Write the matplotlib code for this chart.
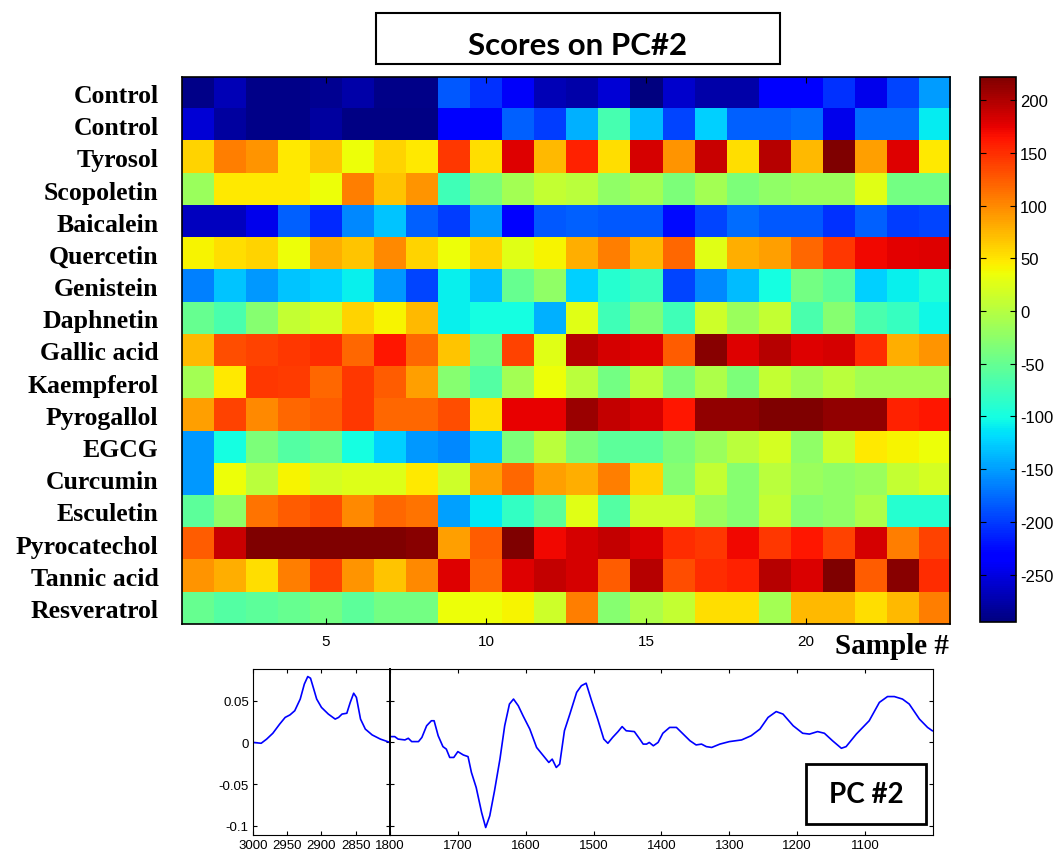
import numpy as np
import matplotlib.pyplot as plt
from matplotlib.patches import Rectangle

plt.rcParams['axes.unicode_minus'] = False

compounds = ['Control', 'Control', 'Tyrosol', 'Scopoletin', 'Baicalein', 'Quercetin',
             'Genistein', 'Daphnetin', 'Gallic acid', 'Kaempferol', 'Pyrogallol', 'EGCG',
             'Curcumin', 'Esculetin', 'Pyrocatechol', 'Tannic acid', 'Resveratrol']
samples = np.arange(1, 25)

# scores on PC#2, one row per compound, one column per sample
scores = np.array([
    [-290, -270, -290, -290, -285, -275, -290, -290, -185, -205, -240, -270,
     -275, -255, -295, -260, -275, -275, -235, -235, -205, -245, -195, -150],
    [-255, -280, -290, -290, -280, -292, -292, -292, -235, -235, -180, -200,
     -140, -70, -135, -195, -125, -180, -180, -175, -245, -175, -175, -110],
    [60, 106, 93, 48, 67, 35, 60, 48, 145, 54, 178, 73,
     157, 54, 183, 93, 188, 54, 196, 73, 222, 87, 178, 48],
    [-17, 48, 48, 48, 35, 106, 67, 93, -73, -36, -12, 8,
     2, -23, -12, -36, -12, -36, -23, -17, -17, 28, -42, -42],
    [-265, -265, -245, -180, -210, -160, -130, -180, -200, -153, -235, -185,
     -180, -185, -185, -225, -195, -175, -185, -185, -205, -180, -200, -195],
    [42, 54, 60, 35, 80, 67, 100, 60, 35, 60, 28, 42,
     80, 106, 73, 119, 28, 80, 87, 119, 145, 170, 176, 178],
    [-165, -130, -153, -130, -125, -108, -153, -195, -108, -135, -50, -23,
     -125, -90, -78, -195, -160, -135, -101, -42, -55, -125, -108, -95],
    [-50, -68, -30, 8, 20, 60, 42, 73, -108, -101, -101, -140,
     28, -73, -36, -73, 15, -17, 8, -68, -30, -68, -80, -105],
    [73, 132, 138, 145, 150, 119, 163, 119, 67, -42, 138, 28,
     196, 183, 178, 125, 216, 178, 196, 178, 183, 150, 80, 93],
    [-12, 48, 145, 142, 119, 145, 125, 87, -30, -62, -12, 35,
     2, -42, 2, -36, -5, -36, 8, -12, 2, -12, -12, -12],
    [87, 138, 100, 119, 125, 145, 119, 119, 132, 54, 175, 175,
     209, 190, 183, 163, 212, 212, 220, 220, 212, 212, 157, 163],
    [-153, -101, -36, -62, -50, -101, -125, -153, -160, -130, -36, 2,
     -36, -55, -55, -36, -17, 2, 20, -23, 15, 48, 42, 35],
    [-153, 35, 2, 42, 20, 25, 25, 48, 15, 87, 119, 87,
     80, 106, 60, -30, 8, -30, 2, -17, -23, -17, 8, 20],
    [-55, -23, 112, 125, 132, 100, 119, 112, -148, -112, -82, -55,
     28, -62, 15, 15, -17, -30, 8, -30, -23, -5, -90, -90],
    [125, 188, 222, 222, 222, 222, 222, 216, 87, 125, 222, 170,
     183, 190, 181, 150, 145, 170, 145, 163, 138, 183, 106, 138],
    [93, 80, 54, 106, 138, 93, 67, 100, 178, 119, 178, 190,
     183, 125, 196, 132, 150, 157, 196, 181, 222, 125, 216, 150],
    [-50, -62, -55, -50, -42, -55, -42, -42, 35, 35, 42, 15,
     106, -30, -5, 8, 54, 54, -12, 73, 73, 54, 73, 106],
])

# PC#2 loading, C-H stretch region
wn_ch = [3000, 2988, 2980, 2971, 2961, 2953, 2946, 2939, 2931, 2925, 2920, 2916,
         2912, 2907, 2900, 2890, 2880, 2875, 2870, 2863, 2858, 2853, 2849, 2843,
         2836, 2826, 2814, 2800]
pc_ch = [0.000, -0.001, 0.004, 0.011, 0.022, 0.030, 0.033, 0.038, 0.052, 0.070, 0.079, 0.077,
         0.066, 0.052, 0.042, 0.034, 0.028, 0.030, 0.034, 0.035, 0.048, 0.059, 0.054, 0.028,
         0.016, 0.009, 0.004, 0.000]

# PC#2 loading, fingerprint region
wn_fp = [1800, 1793, 1788, 1778, 1773, 1768, 1758, 1753, 1746, 1739, 1735, 1729,
         1722, 1717, 1712, 1706, 1700, 1692, 1685, 1680, 1673, 1665, 1659, 1653,
         1646, 1638, 1631, 1624, 1618, 1611, 1604, 1594, 1584, 1574, 1566, 1561,
         1555, 1550, 1543, 1535, 1525, 1518, 1511, 1503, 1494, 1485, 1479, 1472,
         1464, 1458, 1452, 1440, 1432, 1427, 1422, 1418, 1412, 1405, 1398, 1388,
         1378, 1368, 1358, 1349, 1341, 1334, 1326, 1314, 1300, 1282, 1268, 1255,
         1243, 1231, 1221, 1206, 1192, 1182, 1170, 1160, 1148, 1135, 1128, 1113,
         1094, 1079, 1067, 1057, 1045, 1035, 1020, 1008, 1001]
pc_fp = [0.007, 0.007, 0.004, 0.003, 0.005, 0.001, 0.001, 0.006, 0.020, 0.026, 0.026, 0.008,
         -0.005, -0.008, -0.018, -0.018, -0.011, -0.015, -0.017, -0.036, -0.054, -0.084, -0.102, -0.088,
         -0.058, -0.020, 0.020, 0.046, 0.052, 0.044, 0.032, 0.016, -0.006, -0.016, -0.024, -0.020,
         -0.030, -0.026, 0.014, 0.034, 0.060, 0.068, 0.071, 0.050, 0.028, 0.004, -0.001, 0.006,
         0.013, 0.019, 0.014, 0.013, 0.004, -0.002, -0.002, 0.000, -0.004, 0.000, 0.011, 0.018,
         0.018, 0.010, 0.002, -0.003, -0.002, -0.005, -0.006, -0.002, 0.001, 0.003, 0.008, 0.016,
         0.030, 0.037, 0.034, 0.020, 0.011, 0.010, 0.013, 0.011, 0.002, -0.007, -0.005, 0.010,
         0.026, 0.048, 0.055, 0.055, 0.052, 0.046, 0.028, 0.018, 0.014]

tick_font = 'Liberation Sans'
label_font = 'Liberation Serif'

fig = plt.figure(figsize=(10.54, 8.53), dpi=100)

# heatmap
ax = fig.add_axes([0.1727, 0.2673, 0.7287, 0.6413])
im = ax.imshow(scores, cmap='jet', vmin=-295, vmax=222, aspect='auto',
               interpolation='nearest', extent=(0.5, 24.5, 17.5, 0.5))
ax.set_xticks([5, 10, 15, 20])
ax.set_xticklabels(['5', '10', '15', '20'], fontsize=11, family=tick_font)
ax.set_yticks(np.arange(1, 18))
ax.set_yticklabels(compounds, fontsize=18.5, fontweight='bold', family=label_font)
ax.set_yticks(np.arange(2, 17, 2), minor=True)
ax.tick_params(axis='y', which='major', length=0, pad=17)
ax.tick_params(axis='y', which='minor', direction='in', length=4, left=True, right=True)
ax.tick_params(axis='x', direction='in', length=4, top=True, bottom=True, pad=7)
for s in ax.spines.values():
    s.set_linewidth(1.2)

fig.text(0.9, 0.2425, 'Sample #', ha='right', va='center', fontsize=21,
         fontweight='bold', family=label_font)

# colorbar
cax = fig.add_axes([0.9298, 0.2697, 0.0342, 0.6389])
cb = fig.colorbar(im, cax=cax, ticks=np.arange(-250, 201, 50))
cax.tick_params(direction='in', length=4, left=True, right=True, labelsize=12, pad=3)
for t in cax.get_yticklabels():
    t.set_family(tick_font)
cb.outline.set_linewidth(1.2)

# title box
fig.patches.append(Rectangle((376 / 1054, 1 - 65 / 853), 404 / 1054, 51 / 853,
                             transform=fig.transFigure, fill=False, lw=1.5, ec='black'))
fig.text(578 / 1054, 1 - 46 / 853, 'Scores on PC#2', ha='center', va='center',
         fontsize=22.5, fontweight='bold', family='Lato')

# loadings
ax1 = fig.add_axes([0.2400, 0.0199, 0.1300, 0.1946])
ax1.plot(wn_ch, pc_ch, color='blue', lw=1.2)
ax1.set_xlim(3000, 2800)
ax1.set_ylim(-0.111, 0.088)
ax1.set_xticks([3000, 2950, 2900, 2850])
ax1.set_yticks([-0.1, -0.05, 0, 0.05])
ax1.set_yticklabels(['-0.1', '-0.05', '0', '0.05'])

ax2 = fig.add_axes([0.3700, 0.0199, 0.5152, 0.1946])
ax2.plot(wn_fp, pc_fp, color='blue', lw=1.2)
ax2.set_xlim(1800, 1000)
ax2.set_ylim(-0.111, 0.088)
ax2.set_xticks([1800, 1700, 1600, 1500, 1400, 1300, 1200, 1100])
ax2.set_yticks([-0.1, -0.05, 0, 0.05])
ax2.set_yticklabels([])

for a in (ax1, ax2):
    a.tick_params(direction='in', length=3, top=True, right=True, labelsize=9.5, pad=3)
    for t in a.get_xticklabels() + a.get_yticklabels():
        t.set_family(tick_font)
    for s in a.spines.values():
        s.set_linewidth(0.8)
ax2.spines['left'].set_linewidth(1.4)

ax2.add_patch(Rectangle((0.766, 0.066), 0.221, 0.362, transform=ax2.transAxes,
                        fc='white', ec='black', lw=2, zorder=3))
ax2.text(0.877, 0.247, 'PC #2', transform=ax2.transAxes, ha='center', va='center',
         fontsize=20, fontweight='bold', family='Lato', zorder=4)

fig.savefig('out.png', dpi=100)
